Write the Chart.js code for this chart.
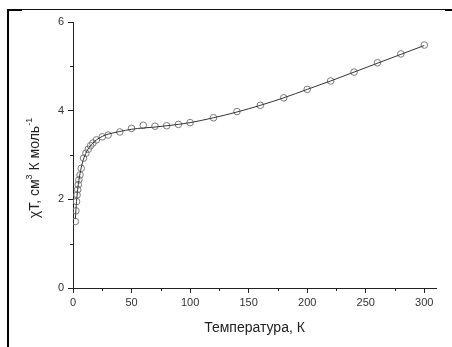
<!DOCTYPE html>
<html>
<head>
<meta charset="utf-8">
<script src="https://cdn.jsdelivr.net/npm/chart.js@4/dist/chart.umd.min.js"></script>
<style>
html, body { margin: 0; padding: 0; background: #fff; }
#wrap { position: relative; width: 452px; height: 347px; overflow: hidden; }
#myChart { position: absolute; left: 0; top: 0; }
.rule { position: absolute; background: #000; }
</style>
</head>
<body>
<div id="wrap">
  <canvas id="myChart" width="452" height="347"></canvas>
  <div class="rule" style="left:7px;top:9px;width:439px;height:1px;background:#111"></div>
  <div class="rule" style="left:7px;top:9px;width:15px;height:2px"></div>
  <div class="rule" style="left:7px;top:9px;width:2px;height:338px"></div>
  <div class="rule" style="left:445px;top:9px;width:7px;height:2px"></div>
</div>
<script>
// measured points (T, K ; chiT, cm3 K mol-1)
var tempData = [2, 2.5, 3, 3.5, 4, 4.5, 5, 6, 7, 9, 11, 13, 15, 17, 20, 25, 30, 40, 50, 60, 70, 80, 90, 100, 120, 140, 160, 180, 200, 220, 240, 260, 280, 300];
var chiTData = [1.50, 1.74, 1.95, 2.10, 2.22, 2.33, 2.44, 2.55, 2.70, 2.93, 3.04, 3.13, 3.21, 3.27, 3.34, 3.41, 3.45, 3.52, 3.60, 3.67, 3.65, 3.66, 3.69, 3.73, 3.84, 3.98, 4.12, 4.29, 4.48, 4.67, 4.87, 5.08, 5.28, 5.48];

// fitted curve
var tempFit = [2, 3, 4, 5, 6, 8, 10, 13, 16, 20, 25, 30, 40, 50, 60, 70, 80, 90, 100, 120, 140, 160, 180, 200, 220, 240, 260, 280, 300];
var chiTFit = [1.56, 1.95, 2.22, 2.42, 2.58, 2.82, 2.98, 3.14, 3.24, 3.34, 3.42, 3.47, 3.53, 3.58, 3.61, 3.63, 3.66, 3.69, 3.73, 3.84, 3.97, 4.12, 4.29, 4.48, 4.67, 4.87, 5.07, 5.27, 5.47];

var xTicks = [0, 50, 100, 150, 200, 250, 300];
var xMinor = [25, 75, 125, 175, 225, 275];
var yTicks = [0, 2, 4, 6];
var yMinor = [1, 3, 5];

function toPoints(xs, ys) {
    return xs.map(function (x, i) { return {x: x, y: ys[i]}; });
}

// short minor ticks, placed with the chart's own scales
var minorTicks = {
    id: 'minorTicks',
    afterDraw: function (chart) {
        var c = chart.ctx, xs = chart.scales.x, ys = chart.scales.y;
        c.save();
        c.strokeStyle = '#222';
        c.lineWidth = 1;
        c.beginPath();
        xMinor.forEach(function (v) {
            var px = Math.round(xs.getPixelForValue(v)) + 0.5;
            c.moveTo(px, xs.top);
            c.lineTo(px, xs.top + 3);
        });
        yMinor.forEach(function (v) {
            var py = Math.round(ys.getPixelForValue(v)) + 0.5;
            c.moveTo(ys.right, py);
            c.lineTo(ys.right - 3, py);
        });
        c.stroke();
        c.restore();
    }
};

// y title with superscripts
var yTitle = {
    id: 'yTitle',
    afterDraw: function (chart) {
        var c = chart.ctx;
        var parts = [['χT, см', false], ['3', true], [' К моль', false], ['-1', true]];
        var big = '14px "Liberation Sans", Arial, sans-serif';
        var small = '9px "Liberation Sans", Arial, sans-serif';
        c.save();
        c.translate(35, 168);
        c.rotate(-Math.PI / 2);
        c.fillStyle = '#222';
        c.textBaseline = 'middle';
        var total = 0;
        parts.forEach(function (p) { c.font = p[1] ? small : big; total += c.measureText(p[0]).width; });
        var x = -total / 2;
        parts.forEach(function (p) {
            c.font = p[1] ? small : big;
            c.fillText(p[0], x, p[1] ? -5 : 0);
            x += c.measureText(p[0]).width;
        });
        c.restore();
    }
};

window.onload = function () {
    var ctx = document.getElementById('myChart').getContext('2d');
    new Chart(ctx, {
        type: 'scatter',
        data: {
            datasets: [{
                label: 'fit',
                data: toPoints(tempFit, chiTFit),
                showLine: true,
                cubicInterpolationMode: 'monotone',
                borderColor: '#333',
                borderWidth: 1,
                pointRadius: 0,
                fill: false
            }, {
                label: 'data',
                data: toPoints(tempData, chiTData),
                showLine: false,
                pointStyle: 'circle',
                pointRadius: 3.3,
                pointBorderWidth: 1,
                pointBorderColor: '#7a7a7a',
                pointBackgroundColor: 'rgba(0,0,0,0)'
            }]
        },
        options: {
            responsive: false,
            animation: false,
            layout: {padding: {left: 0, top: 22, right: 16, bottom: 0}},
            plugins: {
                legend: {display: false},
                tooltip: {enabled: false}
            },
            scales: {
                x: {
                    type: 'linear',
                    min: 0,
                    max: 310,
                    afterBuildTicks: function (s) { s.ticks = xTicks.map(function (v) { return {value: v}; }); },
                    afterFit: function (s) { s.height = 59; },
                    grid: {drawOnChartArea: false, drawTicks: true, tickLength: 5, color: '#222'},
                    border: {display: true, color: '#222', width: 1},
                    ticks: {
                        padding: 3,
                        maxRotation: 0,
                        color: '#333',
                        font: {family: '"Liberation Sans", Arial, sans-serif', size: 11}
                    },
                    title: {
                        display: true,
                        text: 'Температура, К',
                        color: '#222',
                        padding: {top: 0, bottom: 10},
                        font: {family: '"Liberation Sans", Arial, sans-serif', size: 14}
                    }
                },
                y: {
                    min: 0,
                    max: 6,
                    afterBuildTicks: function (s) { s.ticks = yTicks.map(function (v) { return {value: v}; }); },
                    afterFit: function (s) { s.width = 73; },
                    grid: {drawOnChartArea: false, drawTicks: true, tickLength: 5, color: '#222'},
                    border: {display: true, color: '#222', width: 1},
                    ticks: {
                        padding: 4,
                        color: '#333',
                        font: {family: '"Liberation Sans", Arial, sans-serif', size: 11}
                    }
                }
            }
        },
        plugins: [minorTicks, yTitle]
    });
};
</script>
</body>
</html>
